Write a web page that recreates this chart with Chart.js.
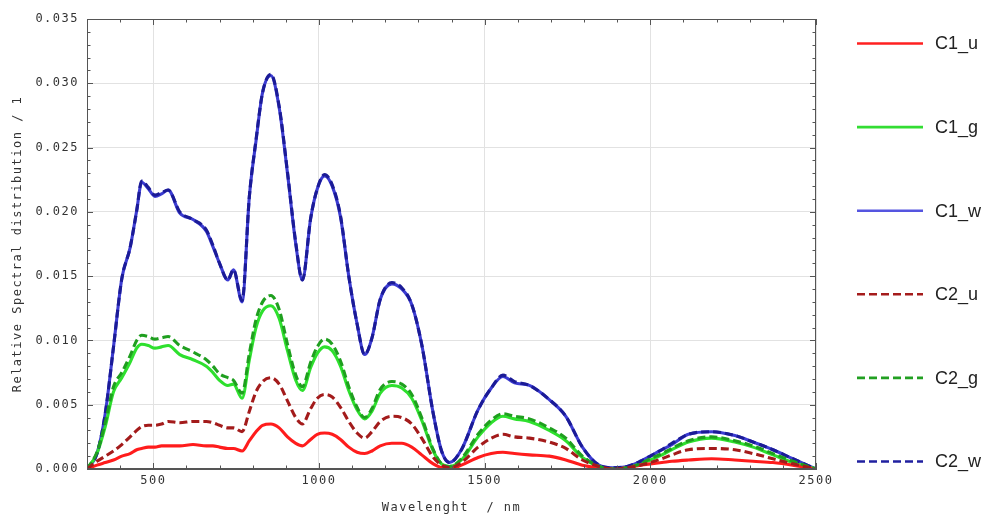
<!DOCTYPE html>
<html>
<head>
<meta charset="utf-8">
<script src="https://cdn.jsdelivr.net/npm/chart.js@4"></script>
<style>
  html, body { margin: 0; padding: 0; background: #fff; }
  #wrap { width: 989px; height: 515px; }
</style>
</head>
<body>
<div id="wrap"><canvas id="spectra"></canvas></div>
<script>
const wavelengths = [300, 330, 355, 380, 405, 430, 450, 465, 485, 505, 525, 545, 580, 620, 660, 680, 700, 725, 742, 768,
  790, 810, 830, 855, 880, 905, 930, 950, 975, 995, 1017, 1040, 1065, 1090, 1115, 1138, 1160, 1185, 1220, 1250,
  1280, 1310, 1345, 1370, 1394, 1430, 1480, 1520, 1555, 1590, 1635, 1695, 1745, 1795, 1845, 1885, 1930, 1970, 2000, 2035,
  2065, 2115, 2185, 2255, 2310, 2370, 2430, 2500];

const c1u = [0, 0.0003, 0.0005, 0.0007, 0.0010, 0.0012, 0.0015, 0.0016, 0.0017, 0.0017, 0.0018, 0.0018, 0.0018, 0.0019, 0.0018, 0.0018, 0.0017, 0.0016, 0.0016, 0.0014,
  0.0022, 0.0029, 0.0034, 0.0035, 0.0032, 0.0025, 0.0020, 0.0018, 0.0023, 0.0027, 0.0028, 0.0027, 0.0023, 0.0017, 0.0013, 0.0012, 0.0014, 0.0018, 0.0020, 0.0020,
  0.0017, 0.0011, 0.0004, 0.0001, 0.0000, 0.0003, 0.0009, 0.0012, 0.0013, 0.0012, 0.0011, 0.0010, 0.0007, 0.0003, 0.0001, 0.0000, 0.0001, 0.0003, 0.0004, 0.0005,
  0.0006, 0.0007, 0.0008, 0.0007, 0.0006, 0.0005, 0.0003, 0];

const c1g = [0, 0.0012, 0.0033, 0.0060, 0.0071, 0.0083, 0.0094, 0.0097, 0.0096, 0.0094, 0.0095, 0.0096, 0.0089, 0.0085, 0.0080, 0.0075, 0.0069, 0.0065, 0.0066, 0.0055,
  0.0085, 0.0110, 0.0123, 0.0127, 0.0117, 0.0092, 0.0069, 0.0061, 0.0079, 0.0090, 0.0095, 0.0092, 0.0080, 0.0061, 0.0046, 0.0039, 0.0045, 0.0059, 0.0065, 0.0063,
  0.0055, 0.0038, 0.0014, 0.0004, 0.0002, 0.0007, 0.0025, 0.0036, 0.0041, 0.0039, 0.0037, 0.0030, 0.0022, 0.0009, 0.0002, 0.0000, 0.0001, 0.0004, 0.0007, 0.0011,
  0.0015, 0.0021, 0.0024, 0.0021, 0.0017, 0.0011, 0.0005, 0];

const c1w = [0, 0.0012, 0.0043, 0.0095, 0.0148, 0.0172, 0.0201, 0.0223, 0.0218, 0.0212, 0.0214, 0.0217, 0.0199, 0.0194, 0.0185, 0.0173, 0.0160, 0.0147, 0.0155, 0.0130,
  0.0212, 0.0255, 0.0293, 0.0306, 0.0281, 0.0230, 0.0175, 0.0147, 0.0195, 0.0218, 0.0228, 0.0220, 0.0196, 0.0150, 0.0113, 0.0089, 0.0102, 0.0132, 0.0144, 0.0140,
  0.0128, 0.0097, 0.0043, 0.0014, 0.0005, 0.0015, 0.0046, 0.0063, 0.0072, 0.0067, 0.0065, 0.0054, 0.0041, 0.0017, 0.0003, 0.0001, 0.0002, 0.0006, 0.0010, 0.0015,
  0.0019, 0.0027, 0.0029, 0.0026, 0.0021, 0.0015, 0.0008, 0];

const c2u = [0, 0.0006, 0.0010, 0.0014, 0.0019, 0.0025, 0.0030, 0.0033, 0.0034, 0.0034, 0.0035, 0.0037, 0.0036, 0.0037, 0.0037, 0.0036, 0.0034, 0.0032, 0.0032, 0.0029,
  0.0045, 0.0060, 0.0068, 0.0071, 0.0066, 0.0053, 0.0040, 0.0035, 0.0047, 0.0055, 0.0058, 0.0056, 0.0048, 0.0037, 0.0028, 0.0024, 0.0029, 0.0037, 0.0041, 0.0040,
  0.0035, 0.0024, 0.0009, 0.0003, 0.0001, 0.0005, 0.0017, 0.0024, 0.0027, 0.0025, 0.0024, 0.0021, 0.0016, 0.0007, 0.0002, 0.0000, 0.0001, 0.0003, 0.0005, 0.0008,
  0.0011, 0.0015, 0.0016, 0.0015, 0.0012, 0.0008, 0.0004, 0];

const c2g = [0, 0.0013, 0.0036, 0.0064, 0.0075, 0.0088, 0.0100, 0.0104, 0.0103, 0.0101, 0.0102, 0.0103, 0.0096, 0.0091, 0.0085, 0.0080, 0.0074, 0.0071, 0.0069, 0.0059,
  0.0090, 0.0116, 0.0130, 0.0135, 0.0124, 0.0097, 0.0073, 0.0064, 0.0083, 0.0095, 0.0101, 0.0097, 0.0084, 0.0064, 0.0048, 0.0040, 0.0047, 0.0062, 0.0068, 0.0066,
  0.0058, 0.0040, 0.0015, 0.0004, 0.0002, 0.0008, 0.0027, 0.0038, 0.0043, 0.0041, 0.0039, 0.0032, 0.0024, 0.0010, 0.0002, 0.0000, 0.0001, 0.0004, 0.0008, 0.0012,
  0.0016, 0.0022, 0.0025, 0.0022, 0.0018, 0.0012, 0.0006, 0];

const c2w = [0, 0.0012, 0.0043, 0.0095, 0.0148, 0.0172, 0.0201, 0.0224, 0.0219, 0.0213, 0.0215, 0.0217, 0.0200, 0.0194, 0.0186, 0.0174, 0.0160, 0.0147, 0.0155, 0.0131,
  0.0212, 0.0256, 0.0293, 0.0307, 0.0282, 0.0231, 0.0176, 0.0147, 0.0195, 0.0218, 0.0229, 0.0221, 0.0197, 0.0150, 0.0113, 0.0089, 0.0102, 0.0132, 0.0145, 0.0141,
  0.0128, 0.0097, 0.0043, 0.0014, 0.0005, 0.0015, 0.0046, 0.0063, 0.0073, 0.0068, 0.0065, 0.0054, 0.0041, 0.0017, 0.0003, 0.0001, 0.0002, 0.0006, 0.0010, 0.0015,
  0.0020, 0.0027, 0.0029, 0.0026, 0.0021, 0.0015, 0.0008, 0];

const seriesNames = ["C1_u", "C1_g", "C1_w", "C2_u", "C2_g", "C2_w"];
const seriesValues = [c1u, c1g, c1w, c2u, c2g, c2w];
const xTicks = [500, 1000, 1500, 2000, 2500];
const yTicks = [0, 0.005, 0.010, 0.015, 0.020, 0.025, 0.030, 0.035];

const colors = ["#ff1c1c", "#2ee02e", "#3c3cd2", "#a31b1b", "#1f9f1f", "#1b1b96"];
const legendColors = ["#ff2020", "#33dd33", "#5555e0", "#a51c1c", "#22a022", "#2020a0"];
const monoFont = "DejaVu Sans Mono";

function spacing(chart) {
  chart.ctx.letterSpacing = "1.5px";
}

// box round the plot with small inside ticks on all four sides
const frameTicks = {
  id: "frameTicks",
  beforeLayout: spacing,
  beforeDraw: spacing,
  afterDraw(chart) {
    const { ctx, chartArea: a, scales: { x, y } } = chart;
    ctx.save();
    ctx.strokeStyle = "#555";
    ctx.lineWidth = 1;
    ctx.strokeRect(a.left + 0.5, a.top + 0.5, a.width - 1, a.height - 1);
    ctx.beginPath();
    for (let w = 300; w <= 2500; w += 100) {
      const px = Math.round(x.getPixelForValue(w)) + 0.5;
      const len = w % 500 === 0 ? 6 : 3.5;
      ctx.moveTo(px, a.bottom); ctx.lineTo(px, a.bottom - len);
      ctx.moveTo(px, a.top); ctx.lineTo(px, a.top + len);
    }
    for (let k = 0; k <= 35; k++) {
      const py = Math.round(y.getPixelForValue(k / 1000)) + 0.5;
      const len = k % 5 === 0 ? 6 : 3.5;
      ctx.moveTo(a.left, py); ctx.lineTo(a.left + len, py);
      ctx.moveTo(a.right, py); ctx.lineTo(a.right - len, py);
    }
    ctx.stroke();
    ctx.restore();
  }
};

const sideLegend = {
  id: "sideLegend",
  afterDraw(chart) {
    const ctx = chart.ctx;
    ctx.save();
    ctx.letterSpacing = "0px";
    ctx.font = "18px 'Liberation Sans', Arial, sans-serif";
    ctx.textBaseline = "middle";
    ctx.fillStyle = "#222";
    chart.data.datasets.forEach((ds, i) => {
      const yy = 43.5 + i * 83.6;
      ctx.strokeStyle = legendColors[i];
      ctx.lineWidth = 2.6;
      ctx.setLineDash(ds.borderDash || []);
      ctx.beginPath();
      ctx.moveTo(857, yy);
      ctx.lineTo(923, yy);
      ctx.stroke();
      ctx.fillText(ds.label, 935, yy + 1);
    });
    ctx.restore();
  }
};

const datasets = seriesNames.map((name, i) => ({
  label: name,
  data: wavelengths.map((w, j) => ({ x: w, y: seriesValues[i][j] })),
  borderColor: colors[i],
  borderWidth: 3.1,
  borderDash: i >= 3 ? [8, 4] : [],
  pointRadius: 0,
  fill: false,
  cubicInterpolationMode: "monotone",
  order: i >= 3 ? 0 : 1
}));

new Chart(document.getElementById("spectra"), {
  type: "line",
  data: { datasets },
  options: {
    responsive: true,
    maintainAspectRatio: false,
    animation: false,
    layout: { padding: { top: 19, right: 173, left: 0, bottom: 0 } },
    plugins: { legend: { display: false }, tooltip: { enabled: false } },
    scales: {
      x: {
        type: "linear",
        min: 300,
        max: 2500,
        afterBuildTicks(scale) { scale.ticks = xTicks.map(v => ({ value: v })); },
        afterFit(scale) { scale.height = 46; },
        ticks: {
          color: "#333",
          maxRotation: 0,
          padding: 5,
          font: { family: monoFont, size: 12 },
          callback: v => String(v)
        },
        grid: { color: "#e2e2e2", drawTicks: false },
        border: { color: "#555" },
        title: {
          display: true,
          text: "Wavelenght  / nm",
          color: "#333",
          padding: { top: 0, bottom: 0 },
          font: { family: monoFont, size: 12 }
        }
      },
      y: {
        min: 0,
        max: 0.035,
        afterBuildTicks(scale) { scale.ticks = yTicks.map(v => ({ value: v })); },
        afterFit(scale) { scale.width = 87; },
        ticks: {
          color: "#333",
          padding: 8,
          font: { family: monoFont, size: 12 },
          callback: v => Number(v).toFixed(3)
        },
        grid: { color: "#e2e2e2", drawTicks: false },
        border: { color: "#555" },
        title: {
          display: true,
          text: "Relative Spectral distribution / 1",
          color: "#333",
          padding: { top: 11, bottom: 0 },
          font: { family: monoFont, size: 12 }
        }
      }
    }
  },
  plugins: [frameTicks, sideLegend]
});
</script>
</body>
</html>
